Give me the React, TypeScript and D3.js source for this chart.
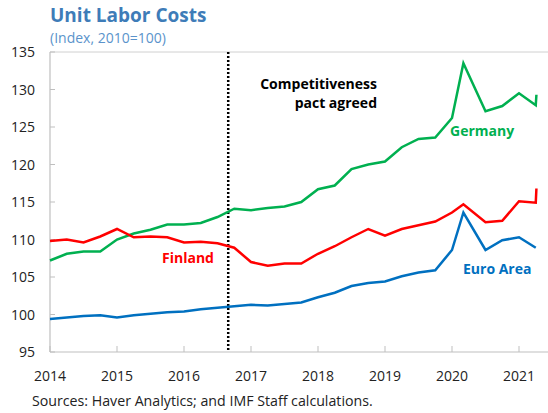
import React from 'react';
import * as d3 from 'd3';

// quarters as decimal years; the 2020 spike sits between Q1 and Q2 in the source chart
const periods = [
  2014.0, 2014.25, 2014.5, 2014.75, 2015.0, 2015.25, 2015.5, 2015.75,
  2016.0, 2016.25, 2016.5, 2016.75, 2017.0, 2017.25, 2017.5, 2017.75,
  2018.0, 2018.25, 2018.5, 2018.75, 2019.0, 2019.25, 2019.5, 2019.75,
  2020.0, 2020.17, 2020.5, 2020.75, 2021.0, 2021.25, 2021.26,
];

const germany = [
  107.2, 108.1, 108.4, 108.4, 110.0, 110.8, 111.3, 112.0,
  112.0, 112.2, 113.0, 114.1, 113.9, 114.2, 114.4, 115.0,
  116.7, 117.2, 119.4, 120.0, 120.4, 122.3, 123.4, 123.6,
  126.2, 133.5, 127.1, 127.8, 129.5, 127.9, 129.3,
];

const finland = [
  109.8, 110.0, 109.6, 110.4, 111.4, 110.3, 110.4, 110.3,
  109.6, 109.7, 109.5, 108.9, 107.0, 106.5, 106.8, 106.8,
  108.1, 109.1, 110.3, 111.4, 110.5, 111.4, 111.9, 112.4,
  113.6, 114.7, 112.3, 112.5, 115.1, 114.9, 116.8,
];

const euroArea: (number | null)[] = [
  99.4, 99.6, 99.8, 99.9, 99.6, 99.9, 100.1, 100.3,
  100.4, 100.7, 100.9, 101.1, 101.3, 101.2, 101.4, 101.6,
  102.3, 102.9, 103.8, 104.2, 104.4, 105.1, 105.6, 105.9,
  108.6, 113.6, 108.6, 109.9, 110.3, 108.9, null,
];

const yearTicks = [2014, 2015, 2016, 2017, 2018, 2019, 2020, 2021];
const valueTicks = [95, 100, 105, 110, 115, 120, 125, 130, 135];
const pactDate = 2016.66;

const FONT = '"Open Sans", "Noto Sans", sans-serif';

export default function App() {
  const width = 548;
  const height = 413;
  const left = 50;
  const right = 548;
  const top = 52;
  const bottom = 352;

  const x = d3.scaleLinear().domain([2014, 2014 + (right - left) / 67]).range([left, right]);
  const y = d3.scaleLinear().domain([95, 135]).range([bottom, top]);

  const line = d3
    .line<number | null>()
    .defined((d) => d != null)
    .x((_, i) => x(periods[i]))
    .y((d) => y(d as number));

  const series = [
    { name: 'Germany', values: germany, color: '#00B050' },
    { name: 'Finland', values: finland, color: '#FF0000' },
    { name: 'Euro Area', values: euroArea, color: '#0070C0' },
  ];

  return (
    <svg width={width} height={height} style={{ position: 'absolute', left: 0, top: 0 }} fontFamily={FONT}>
      <text x={50} y={22} fontSize={19} fontWeight={700} fill="#3E7CB8">Unit Labor Costs</text>
      <text x={50} y={43} fontSize={14} fill="#5B93CB">(Index, 2010=100)</text>

      {/* frame */}
      <line x1={left} x2={right} y1={top} y2={top} stroke="#D0D0D0" strokeWidth={1} />
      <line x1={left} x2={right} y1={bottom} y2={bottom} stroke="#BFBFBF" strokeWidth={1.2} />
      <line x1={left} x2={left} y1={top} y2={bottom} stroke="#BFBFBF" strokeWidth={1.2} />

      {valueTicks.map((v) => (
        <g key={v}>
          <line x1={left} x2={left + 5} y1={y(v)} y2={y(v)} stroke="#BFBFBF" />
          <text x={35} y={y(v) + 5} textAnchor="end" fontSize={14} fill="#222">{v}</text>
        </g>
      ))}

      {yearTicks.map((t) => (
        <g key={t}>
          <line x1={x(t)} x2={x(t)} y1={bottom} y2={bottom - 6} stroke="#BFBFBF" />
          <text x={x(t)} y={381} textAnchor="middle" fontSize={14} fill="#222">{t}</text>
        </g>
      ))}

      <line
        x1={x(pactDate)} x2={x(pactDate)} y1={top} y2={bottom}
        stroke="#000" strokeWidth={2.5} strokeDasharray="2 2"
      />

      {series.map((s) => (
        <path key={s.name} d={line(s.values) ?? ''} fill="none" stroke={s.color} strokeWidth={2.5} strokeLinejoin="miter" />
      ))}

      <text x={377} y={89} textAnchor="end" fontSize={14} fontWeight={700} fill="#000">Competitiveness</text>
      <text x={377} y={108} textAnchor="end" fontSize={14} fontWeight={700} fill="#000">pact agreed</text>

      <text x={450} y={136} fontSize={14} fontWeight={700} fill="#00B050">Germany</text>
      <text x={162} y={263} fontSize={14} fontWeight={700} fill="#FF0000">Finland</text>
      <text x={463} y={274} fontSize={14} fontWeight={700} fill="#0070C0">Euro Area</text>

      <text x={32} y={406} fontSize={14.2} fill="#222">Sources: Haver Analytics; and IMF Staff calculations.</text>
    </svg>
  );
}
